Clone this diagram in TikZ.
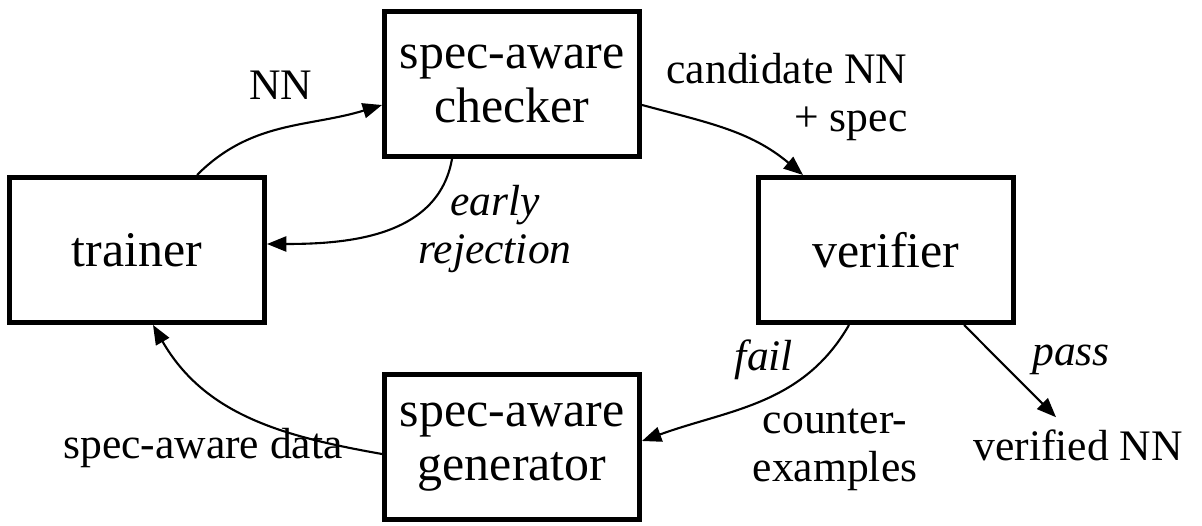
\documentclass[tikz,border=0pt]{standalone}
\usepackage{fontspec}
\setmainfont{Liberation Serif}
\usepackage{tikz}
\usetikzlibrary{arrows.meta}

\begin{document}
\fontsize{12.4}{13.8}\selectfont
\begin{tikzpicture}[
  box/.style={draw,line width=1.3pt,minimum width=2.554cm,minimum height=1.454cm,align=center,inner sep=0pt,font=\fontsize{14.2}{15.4}\selectfont},
  lbl/.style={align=center,inner sep=1pt},
  flow/.style={line width=0.6pt,-{Triangle[length=5.5pt,width=4.3pt]}}]

\useasboundingbox (0,0) rectangle (12.02,5.26) ;

\node[box] (nd_checker) at (5.12,4.42) {spec-aware\\checker} ;
\node[box] (nd_trainer) at (1.37,2.76) {trainer} ;
\node[box] (nd_verifier) at (8.86,2.76) {verifier} ;
\node[box] (nd_generator) at (5.12,0.79) {spec-aware\\generator} ;

\node[lbl] (lb_nn) at (2.81,4.41) {NN} ;
\node[lbl,align=right] (lb_cand) at (7.87,4.29) {candidate NN\\+ spec} ;
\node[lbl,font=\itshape] (lb_early) at (4.95,2.97) {early\\rejection} ;
\node[lbl,font=\itshape] (lb_fail) at (7.64,1.66) {fail} ;
\node[lbl,font=\itshape] (lb_pass) at (10.71,1.66) {pass} ;
\node[lbl] (lb_counter) at (8.35,0.76) {counter-\\examples} ;
\node[lbl] (lb_vnn) at (10.78,0.81) {verified NN} ;
\node[lbl] (lb_data) at (2.03,0.78) {spec-aware data} ;

\draw[flow] ([xshift=0.6cm]nd_trainer.north) to[out=45,in=197] ([yshift=-0.21cm]nd_checker.west) ;
\draw[flow] ([yshift=-0.21cm]nd_checker.east) to[out=-15,in=140] ([xshift=-0.83cm]nd_verifier.north) ;
\draw[flow] ([xshift=-0.6cm]nd_checker.south) to[out=-100,in=0] ([yshift=0.06cm]nd_trainer.east) ;

\draw[flow] ([xshift=-0.37cm]nd_verifier.south) to[out=-120,in=20] ([yshift=0.06cm]nd_generator.east) ;
\draw[flow] ([xshift=0.78cm]nd_verifier.south) -- ([xshift=-0.22cm,yshift=0.08cm]lb_vnn.north) ;

\draw[flow] ([yshift=-0.07cm]nd_generator.west) to[out=170,in=-60] ([xshift=0.16cm]nd_trainer.south) ;

\end{tikzpicture}
\end{document}
